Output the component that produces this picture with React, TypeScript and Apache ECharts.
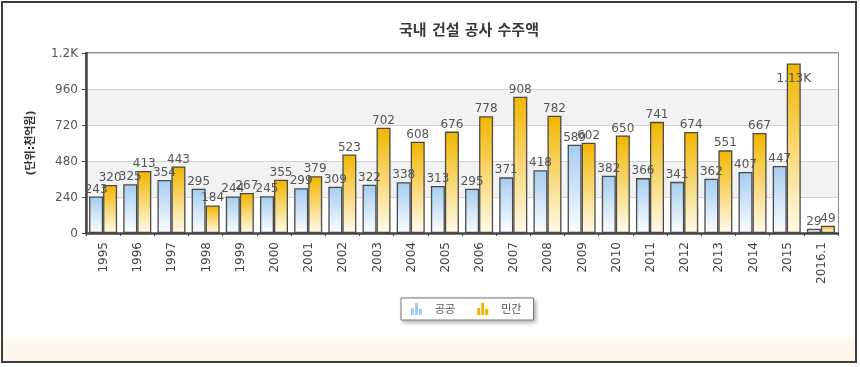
import React, { useEffect, useRef } from "react";
import * as echarts from "echarts";

const categories = ["1995","1996","1997","1998","1999","2000","2001","2002","2003","2004","2005","2006","2007","2008","2009","2010","2011","2012","2013","2014","2015","2016.1"];
const publicValues = [243,325,354,295,244,245,299,309,322,338,313,295,371,418,589,382,366,341,362,407,447,29];
const privateValues = [320,413,443,184,267,355,379,523,702,608,676,778,908,782,602,650,741,674,551,667,1130,49];
const yTicks = { min: 0, max: 1200, interval: 240 };
const seriesNames = ["공공", "민간"];

const FONT = "'DejaVu Sans', 'Noto Sans CJK KR', sans-serif";

function fmtK(v: number): string {
  if (v >= 1000) {
    let s = (v / 1000).toFixed(2);
    s = s.replace(/0+$/, "").replace(/\.$/, "");
    return s + "K";
  }
  return String(v);
}

export default function App() {
  const ref = useRef<HTMLDivElement>(null);
  useEffect(() => {
    if (!ref.current) return;
    const chart = echarts.init(ref.current, undefined, { renderer: "svg" });
    const blue = new echarts.graphic.LinearGradient(0, 0, 0, 1, [
      { offset: 0, color: "#a6cdf1" },
      { offset: 1, color: "#fbfdff" },
    ]);
    const gold = new echarts.graphic.LinearGradient(0, 0, 0, 1, [
      { offset: 0, color: "#f2b600" },
      { offset: 1, color: "#fffaea" },
    ]);
    const barIcon = "path://M0,5h3v7h-3z M4,0h3v12h-3z M8,6h3v6h-3z";
    const labelStyle = {
      show: true,
      position: "top" as const,
      distance: 2,
      color: "#555",
      fontSize: 12,
      fontFamily: FONT,
      formatter: (p: any) => fmtK(p.value),
    };
    chart.setOption({
      animation: false,
      backgroundColor: "transparent",
      textStyle: { fontFamily: FONT },
      graphic: [
        {
          type: "rect",
          z: -100,
          shape: { x: 2, y: 2, width: 854, height: 360 },
          style: { fill: "#ffffff", stroke: "#3d3d3d", lineWidth: 2 },
        },
        {
          type: "rect",
          z: -99,
          shape: { x: 3, y: 334, width: 852, height: 27 },
          style: {
            fill: new echarts.graphic.LinearGradient(0, 0, 0, 1, [
              { offset: 0, color: "#ffffff" },
              { offset: 0.25, color: "#fef7ef" },
              { offset: 1, color: "#fef6ed" },
            ]),
          },
        },
      ],
      title: {
        text: "국내 건설 공사 수주액",
        left: 464,
        textAlign: "center",
        top: 17,
        textStyle: { fontSize: 15, fontWeight: "bold", color: "#3a3a3a", fontFamily: FONT },
      },
      legend: {
        data: [
          { name: seriesNames[0], icon: barIcon, itemStyle: { color: "#a9cdee", borderWidth: 0 } },
          { name: seriesNames[1], icon: barIcon, itemStyle: { color: "#f0b400", borderWidth: 0 } },
        ],
        itemStyle: { borderWidth: 0 },
        left: 401,
        top: 298,
        itemWidth: 11,
        itemHeight: 12,
        itemGap: 22,
        padding: [5, 12, 5, 10],
        borderColor: "#777",
        borderWidth: 1,
        backgroundColor: "#fff",
        shadowBlur: 4,
        shadowColor: "rgba(0,0,0,0.35)",
        shadowOffsetX: 2,
        shadowOffsetY: 2,
        textStyle: { fontSize: 11, color: "#555", fontFamily: FONT, padding: [0, 0, 0, 8] },
      },
      grid: {
        left: 86,
        right: 22,
        top: 53,
        bottom: 134,
        show: true,
        borderColor: "#6a6a6a",
        borderWidth: 1.5,
        backgroundColor: "transparent",
      },
      xAxis: {
        type: "category",
        data: categories,
        axisLine: { lineStyle: { color: "#444", width: 2.5 } },
        axisTick: { show: true, length: 3, lineStyle: { color: "#444" } },
        axisLabel: { rotate: 90, fontSize: 12, color: "#444", margin: 9, fontFamily: FONT },
      },
      yAxis: {
        type: "value",
        min: yTicks.min,
        max: yTicks.max,
        interval: yTicks.interval,
        name: "(단위:천억원)",
        nameLocation: "middle",
        nameGap: 50,
        nameRotate: 90,
        nameTextStyle: { fontSize: 11, fontWeight: "bold", color: "#333", fontFamily: FONT },
        axisLine: { show: true, lineStyle: { color: "#444", width: 2.5 } },
        axisTick: { show: true, length: 4, lineStyle: { color: "#444" } },
        axisLabel: {
          fontSize: 12,
          color: "#555",
          margin: 8,
          fontFamily: FONT,
          formatter: (v: number) => fmtK(v),
        },
        splitLine: { show: true, lineStyle: { color: "#d2d2d2", width: 1 } },
        splitArea: { show: true, areaStyle: { color: ["#ffffff", "#f2f2f2"] } },
      },
      series: [
        {
          name: seriesNames[0],
          type: "bar",
          data: publicValues,
          barGap: "0%",
          barCategoryGap: "18%",
          itemStyle: { color: blue, borderColor: "#4a4a4a", borderWidth: 1.3 },
          label: labelStyle,
        },
        {
          name: seriesNames[1],
          type: "bar",
          data: privateValues.map((v) =>
            v >= 1000
              ? { value: v, label: { position: "insideTop", distance: 8 } }
              : v
          ),
          itemStyle: { color: gold, borderColor: "#4a4a4a", borderWidth: 1.3 },
          label: labelStyle,
        },
      ],
    });
    return () => chart.dispose();
  }, []);
  return (
    <div
      ref={ref}
      style={{ position: "fixed", left: 0, top: 0, width: 860, height: 367 }}
    />
  );
}
